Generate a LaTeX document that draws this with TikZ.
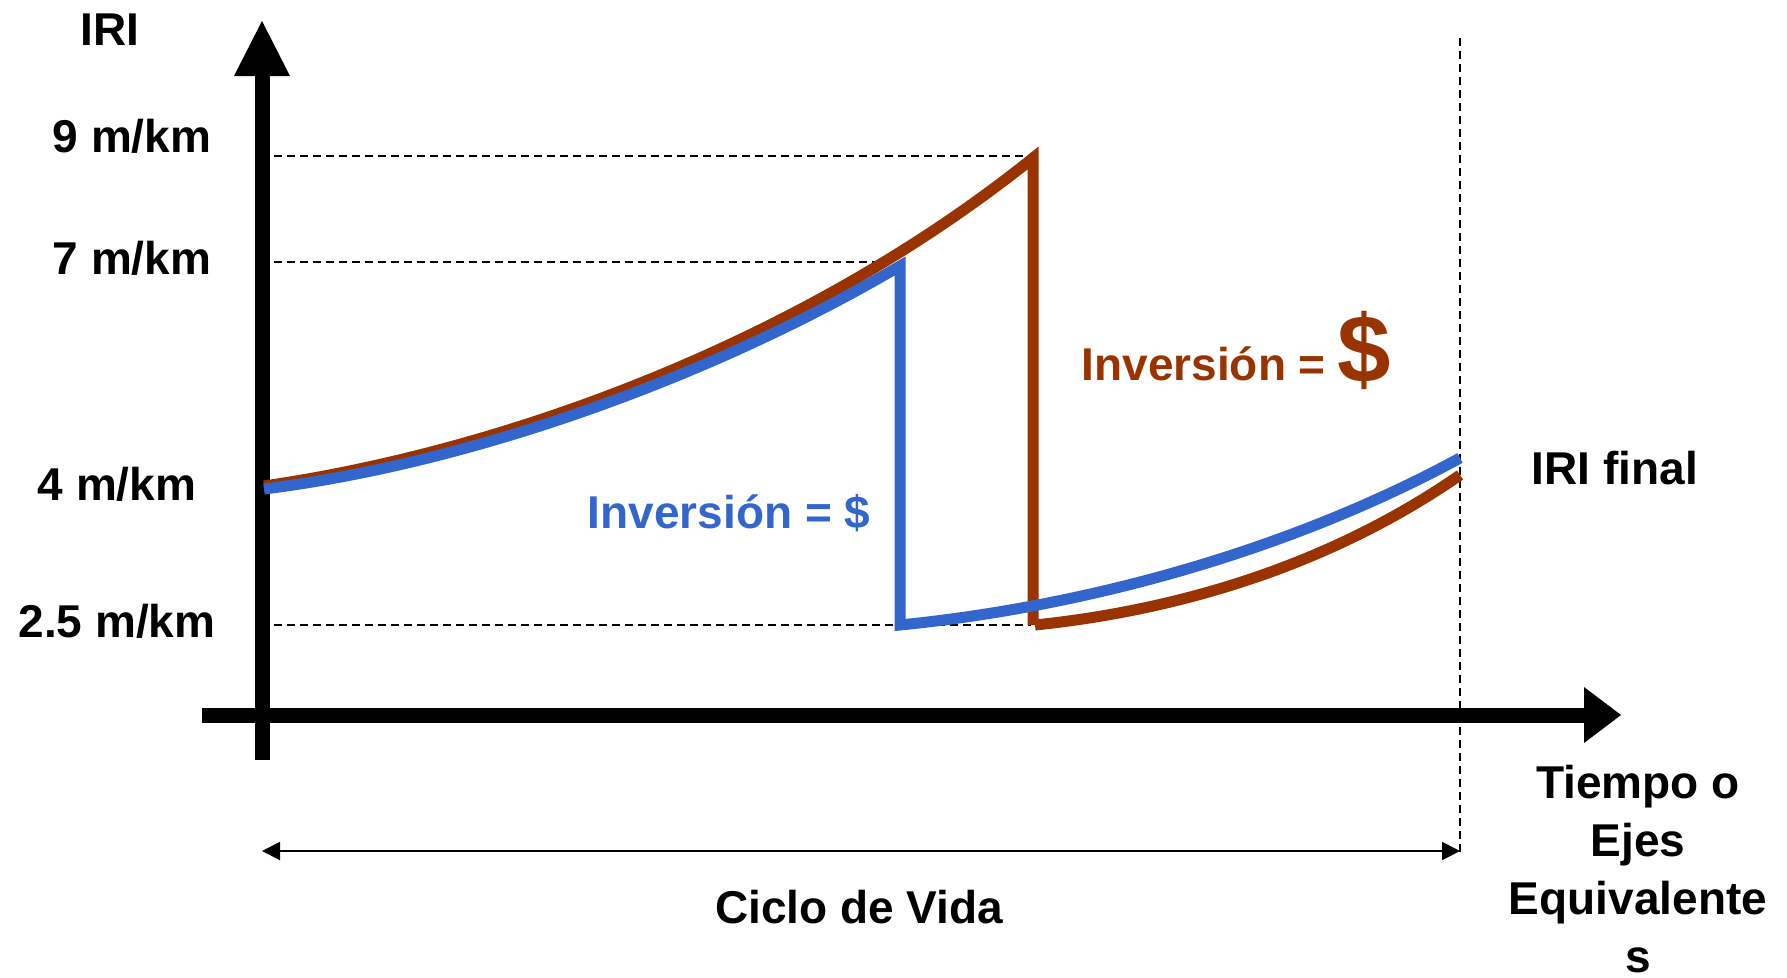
\documentclass[tikz,border=0pt]{standalone}
\usepackage{fontspec}
\setmainfont{Liberation Sans}
\usetikzlibrary{arrows.meta}
\definecolor{bluec}{RGB}{51,102,204}
\definecolor{brownc}{RGB}{153,51,0}
\begin{document}
\begin{tikzpicture}[x=1pt,y=-1pt,
  lbl/.style={font=\fontsize{46}{58}\selectfont\bfseries, inner sep=0pt},
  guide/.style={line width=1.5pt, dash pattern=on 8pt off 5pt},
  curveb/.style={line width=11pt, color=bluec, line join=miter},
  curver/.style={line width=11pt, color=brownc, line join=miter},
  axisl/.style={line width=15pt}]
\useasboundingbox (0,0) rectangle (1787,977);
% coordinates
\coordinate (o) at (262,715);
\coordinate (ytop) at (262,21);
\coordinate (ybot) at (262,760);
\coordinate (xl) at (202,715);
\coordinate (xr) at (1621,715);
\coordinate (g9a) at (274,156);  \coordinate (g9b) at (1031,156);
\coordinate (g7a) at (274,262);  \coordinate (g7b) at (898,262);
\coordinate (g2a) at (274,625);  \coordinate (g2b) at (1031,625);
\coordinate (vt) at (1460,38);   \coordinate (vb) at (1460,855);
\coordinate (dl) at (262,851);   \coordinate (dr) at (1460,851);
% guides
\draw[guide] (g9a) -- (g9b);
\draw[guide] (g7a) -- (g7b);
\draw[guide] (g2a) -- (g2b);
\draw[guide] (vt) -- (vb);
% axes
\draw[axisl] (ybot) -- (262,70);
\fill (ytop) -- (234,76) -- (290,76) -- cycle;
\draw[axisl] (xl) -- (1590,715);
\fill (xr) -- (1584,687) -- (1584,743) -- cycle;
% life-cycle arrow
\draw[line width=2pt, {Triangle[length=18pt,width=18pt]}-{Triangle[length=18pt,width=18pt]}] (dl) -- (dr);
% brown curve
\draw[curver] (264,486) .. controls (500,452) and (800,345) .. (1033,158)
   -- (1033,625) ;
\draw[curver] (1035,625) .. controls (1180,610) and (1330,565) .. (1460,475);
% blue curve
\draw[curveb] (264,489) .. controls (480,462) and (720,372) .. (900,266)
   -- (900,625) .. controls (1100,605) and (1300,545) .. (1460,458);
% labels
\node[lbl] (iri) at (110,30) {IRI};
\node[lbl] (l9) at (132,136) {9 m/km};
\node[lbl] (l7) at (132,258) {7 m/km};
\node[lbl] (l4) at (117,484) {4 m/km};
\node[lbl] (l25) at (117,621) {2.5 m/km};
\node[lbl, text=bluec] (invb) at (729,513) {Inversión = \$};
\node[lbl, text=brownc, anchor=east] (invr) at (1326,364) {Inversión =};
\node[inner sep=0pt, text=brownc, font=\fontsize{96}{100}\selectfont\bfseries] (dol) at (1364,350) {\$};
\node[lbl] (irif) at (1615,468) {IRI final};
\node[lbl, align=center] (tiempo) at (1638,869) {Tiempo o\\Ejes\\Equivalente\\s};
\node[lbl] (ciclo) at (859,907) {Ciclo de Vida};
\end{tikzpicture}
\end{document}
